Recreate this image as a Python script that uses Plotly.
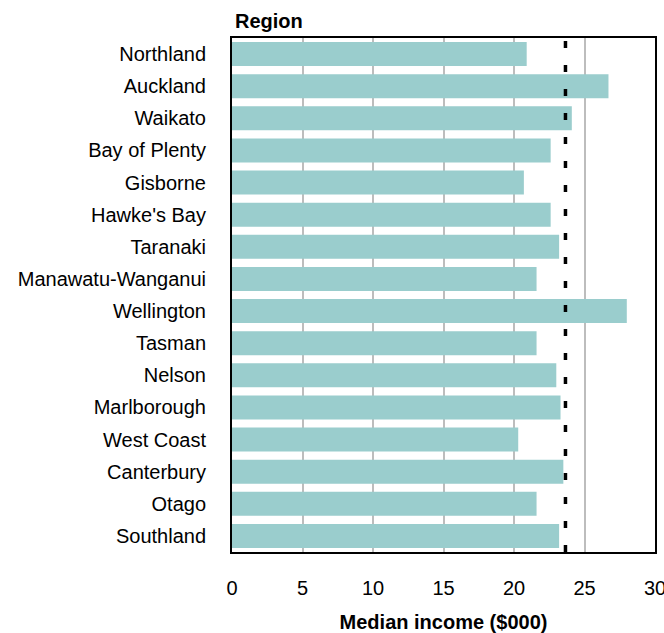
import plotly.graph_objects as go

regions = ["Northland", "Auckland", "Waikato", "Bay of Plenty", "Gisborne",
           "Hawke's Bay", "Taranaki", "Manawatu-Wanganui", "Wellington", "Tasman",
           "Nelson", "Marlborough", "West Coast", "Canterbury", "Otago", "Southland"]
median_income = [20.9, 26.7, 24.1, 22.6, 20.7, 22.6, 23.2, 21.6, 28.0, 21.6,
                 23.0, 23.3, 20.3, 23.5, 21.6, 23.2]
national_median = 23.65
x_ticks = [0, 5, 10, 15, 20, 25, 30]

FONT = "Liberation Sans, Arial, sans-serif"

fig = go.Figure()
fig.add_trace(go.Bar(
    y=regions, x=median_income, orientation="h",
    marker=dict(color="#9ACDCD", line=dict(width=0)),
    hoverinfo="x+y",
))

fig.add_shape(type="line", xref="x", yref="paper",
              x0=national_median, x1=national_median, y0=0, y1=1,
              line=dict(color="black", width=3.5, dash="7px,17px"),
              layer="above")

fig.add_annotation(text="<b>Region</b>", xref="paper", yref="paper",
                   x=0, y=1, xanchor="left", yanchor="bottom", yshift=4, xshift=1,
                   showarrow=False, font=dict(family=FONT, size=20, color="black"))

fig.update_layout(
    width=664, height=633,
    margin=dict(l=232, r=9, t=38, b=81, autoexpand=False),
    paper_bgcolor="white", plot_bgcolor="white",
    bargap=0.25,
    showlegend=False,
    font=dict(family=FONT, size=20, color="black"),
    xaxis=dict(
        range=[0, 30], tickvals=x_ticks, ticktext=[str(v) for v in x_ticks],
        showgrid=True, gridcolor="#BDBDBD", gridwidth=2,
        showline=True, linecolor="black", linewidth=2, mirror=True,
        ticks="", ticklabelstandoff=17, zeroline=False, automargin=False,
        ticklabeloverflow="allow",
        title=dict(text="<b>Median income ($000)</b>", standoff=17,
                   font=dict(family=FONT, size=20, color="black")),
        tickfont=dict(family=FONT, size=20, color="black"),
        fixedrange=True,
    ),
    yaxis=dict(
        autorange="reversed", showgrid=False,
        showline=True, linecolor="black", linewidth=2, mirror=True,
        ticks="", ticklabelstandoff=20, automargin=False,
        tickfont=dict(family=FONT, size=20, color="black"),
        fixedrange=True,
    ),
)

fig.write_html("out.html")
